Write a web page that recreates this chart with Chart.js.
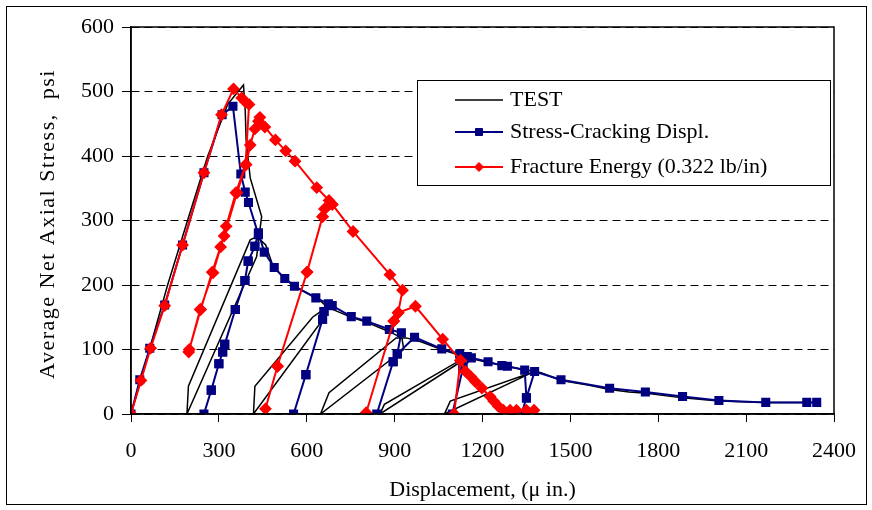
<!DOCTYPE html>
<html>
<head>
<meta charset="utf-8">
<script src="https://cdn.jsdelivr.net/npm/chart.js@4.4.1/dist/chart.umd.min.js"></script>
<style>
  html, body { margin: 0; padding: 0; background: #fff; }
  #wrap { width: 872px; height: 510px; }
</style>
</head>
<body>
<div id="wrap"><canvas id="axial_stress" width="872" height="510"></canvas></div>
<script>
// measured load-unload response
const testX = [0, 63, 125, 193, 262, 330, 384, 390, 393, 407, 446, 440, 429, 191, 196, 407, 430, 460, 485, 520, 560, 600, 640, 665,
               659, 418, 423, 620, 642, 668, 710, 752, 805, 880, 925, 931, 647, 676, 905, 940, 990, 1060, 1130, 1150,
               850, 865, 1130, 1160, 1219, 1280, 1378, 1070, 1090, 1378, 1400, 1468, 1560, 1634, 1700, 1760, 1883, 2007, 2167, 2341];
const testY = [0, 100, 200, 300, 400, 480, 510, 470, 425, 366, 306, 285, 244, 0, 43, 270, 275, 262, 229, 212, 198, 188, 178, 168,
               149, 0, 43, 150, 157, 166, 158, 150, 142, 128, 118, 100, 0, 33, 118, 118, 112, 100, 90, 88,
               0, 15, 85, 86, 80, 74, 66, 0, 20, 66, 64, 52, 45, 38, 34, 32, 25, 20, 18, 18];

// stress - cracking displacement model
const scdX = [0, 30, 64, 115, 176, 249, 311, 348, 375, 390, 401, 435,
              423, 400, 389, 356, 320, 313, 300, 274, 249,
              274, 300, 313, 320, 356, 389, 400, 423, 435,
              455, 489, 525, 558, 631, 674,
              659, 654, 597, 555, 597, 654, 659, 687,
              752, 805, 882, 923,
              909, 895, 839, 895, 909, 968,
              1061, 1122, 1148, 1133, 1097, 1133, 1162,
              1219, 1266, 1285, 1344, 1350, 1333, 1350, 1378,
              1468, 1634, 1756, 1883, 2007, 2167, 2307, 2341];
const scdY = [0, 53, 102, 169, 262, 374, 464, 477, 372, 344, 328, 278,
              260, 237, 207, 162, 108, 96, 78, 37, 0,
              37, 78, 96, 108, 162, 207, 237, 260, 281,
              251, 227, 210, 198, 180, 171,
              159, 147, 61, 0, 61, 147, 159, 168,
              151, 144, 131, 126,
              93, 81, 0, 81, 93, 119,
              101, 93, 89, 71, 0, 71, 87,
              81, 75, 74, 68, 25, 0, 25, 66,
              53, 40, 34, 27, 21, 18, 18, 18];

// fracture energy model (0.322 lb/in)
const feX = [0, 34, 67, 115, 176, 249, 309, 350, 378, 390, 403,
             391, 358, 325, 306, 280, 236, 197,
             199, 238, 277, 318, 362, 393, 407, 423, 435, 440,
             457, 493, 528, 560, 634, 676, 687,
             661, 654, 601, 500, 459, 500, 601, 654, 661, 687,
             758, 884, 927,
             912, 897, 803, 897, 912, 971,
             1064, 1125, 1103, 1125,
             1142, 1160, 1176, 1198, 1226, 1238, 1254, 1271, 1294, 1316, 1350, 1376];
const feY = [0, 52, 102, 168, 262, 374, 464, 504, 490, 484, 480,
             386, 343, 291, 259, 219, 162, 96,
             100, 162, 220, 276, 343, 387, 417, 442, 454, 460,
             445, 425, 408, 392, 351, 331, 325,
             318, 306, 220, 74, 8, 74, 220, 306, 318, 325,
             283, 216, 192,
             157, 144, 2, 144, 157, 167,
             116, 83, 0, 83,
             66, 58, 50, 40, 27, 20, 12, 6, 6, 6, 6, 6];

const seriesLabels = ['TEST', 'Stress-Cracking Displ.', 'Fracture Energy (0.322 lb/in)'];
const xTicks = [0, 300, 600, 900, 1200, 1500, 1800, 2100, 2400];
const yTicks = [0, 100, 200, 300, 400, 500, 600];
const yTitle = 'Average Net Axial Stress,  psi';
const xTitle = 'Displacement, (\u03bc in.)';

const serif = 'Liberation Serif';

function toPoints(xs, ys) {
  return xs.map((x, i) => ({ x: x, y: ys[i] }));
}

// plot frame, outer chart border and the spaced-out y title
const framePlugin = {
  id: 'frame',
  afterDraw(chart) {
    const { ctx, chartArea } = chart;
    ctx.save();
    ctx.strokeStyle = '#000';
    ctx.lineWidth = 1.5;
    ctx.strokeRect(chartArea.left, chartArea.top, chartArea.right - chartArea.left, chartArea.bottom - chartArea.top);
    ctx.lineWidth = 1;
    ctx.strokeRect(6.5, 6.5, 860, 498);

    ctx.translate(48, 224);
    ctx.rotate(-Math.PI / 2);
    ctx.fillStyle = '#000';
    ctx.font = '22px "' + serif + '"';
    ctx.letterSpacing = '1.5px';
    ctx.textAlign = 'center';
    ctx.textBaseline = 'middle';
    ctx.fillText(yTitle, 0, 0);
    ctx.restore();
  }
};

// boxed legend in the upper right of the plot
const legendBox = {
  id: 'legendBox',
  afterDraw(chart) {
    const ctx = chart.ctx;
    const x0 = 417, y0 = 80, w = 413, h = 105;
    ctx.save();
    ctx.fillStyle = '#fff';
    ctx.fillRect(x0, y0, w, h);
    ctx.strokeStyle = '#000';
    ctx.lineWidth = 1;
    ctx.strokeRect(x0 + 0.5, y0 + 0.5, w, h);
    const rows = [100, 132, 167];
    chart.data.datasets.forEach((ds, i) => {
      const y = rows[i];
      ctx.strokeStyle = ds.borderColor;
      ctx.lineWidth = ds.borderWidth;
      ctx.beginPath();
      ctx.moveTo(455, y);
      ctx.lineTo(503, y);
      ctx.stroke();
      if (ds.pointRadius > 0) {
        ctx.fillStyle = ds.pointBackgroundColor;
        ctx.strokeStyle = ds.pointBorderColor;
        ctx.lineWidth = 1;
        ctx.beginPath();
        if (ds.pointStyle === 'rect') {
          ctx.rect(479 - 3.5, y - 3.5, 7, 7);
        } else {
          ctx.moveTo(479, y - 4.5); ctx.lineTo(483.5, y); ctx.lineTo(479, y + 4.5); ctx.lineTo(474.5, y);
          ctx.closePath();
        }
        ctx.fill();
        ctx.stroke();
      }
      ctx.fillStyle = '#000';
      ctx.font = '22px "' + serif + '"';
      ctx.textBaseline = 'middle';
      ctx.textAlign = 'left';
      ctx.fillText(ds.label, 510, y);
    });
    ctx.restore();
  }
};

new Chart(document.getElementById('axial_stress'), {
  type: 'scatter',
  data: {
    datasets: [
      {
        label: seriesLabels[0],
        data: toPoints(testX, testY),
        showLine: true,
        borderColor: '#000000',
        backgroundColor: '#000000',
        borderWidth: 1.5,
        pointRadius: 0,
        order: 3
      },
      {
        label: seriesLabels[1],
        data: toPoints(scdX, scdY),
        showLine: true,
        borderColor: '#000080',
        backgroundColor: '#000080',
        pointBackgroundColor: '#000080',
        pointBorderColor: '#000080',
        borderWidth: 2,
        pointStyle: 'rect',
        pointRadius: 5,
        order: 2
      },
      {
        label: seriesLabels[2],
        data: toPoints(feX, feY),
        showLine: true,
        borderColor: '#ff0000',
        backgroundColor: '#ff0000',
        pointBackgroundColor: '#ff0000',
        pointBorderColor: '#ff0000',
        borderWidth: 2,
        pointStyle: 'rectRot',
        pointRadius: 5,
        order: 1
      }
    ]
  },
  options: {
    responsive: false,
    animation: false,
    layout: { padding: { top: 27, right: 29, left: 0, bottom: 0 } },
    plugins: {
      legend: { display: false },
      tooltip: { enabled: false }
    },
    scales: {
      x: {
        type: 'linear',
        min: 0,
        max: 2400,
        afterBuildTicks: s => { s.ticks = xTicks.map(v => ({ value: v })); },
        afterFit: s => { s.height = 96; },
        ticks: {
          color: '#000',
          font: { family: serif, size: 22 },
          padding: 16,
          maxRotation: 0,
          callback: v => String(v)
        },
        grid: { drawOnChartArea: false, tickLength: 8, tickColor: '#000', color: '#000' },
        border: { color: '#000', width: 1.5 },
        title: {
          display: true,
          text: xTitle,
          color: '#000',
          font: { family: serif, size: 22 },
          padding: { top: 0, bottom: 7 }
        }
      },
      y: {
        type: 'linear',
        min: 0,
        max: 600,
        afterBuildTicks: s => { s.ticks = yTicks.map(v => ({ value: v })); },
        afterFit: s => { s.width = 131; },
        ticks: {
          color: '#000',
          font: { family: serif, size: 22 },
          padding: 8,
          callback: v => String(v)
        },
        grid: {
          color: '#000',
          lineWidth: 1,
          tickBorderDash: [],
          tickLength: 9,
          tickColor: '#000'
        },
        border: { color: '#000', width: 1.5, dash: [8, 5] }
      }
    }
  },
  plugins: [framePlugin, legendBox]
});
</script>
</body>
</html>
